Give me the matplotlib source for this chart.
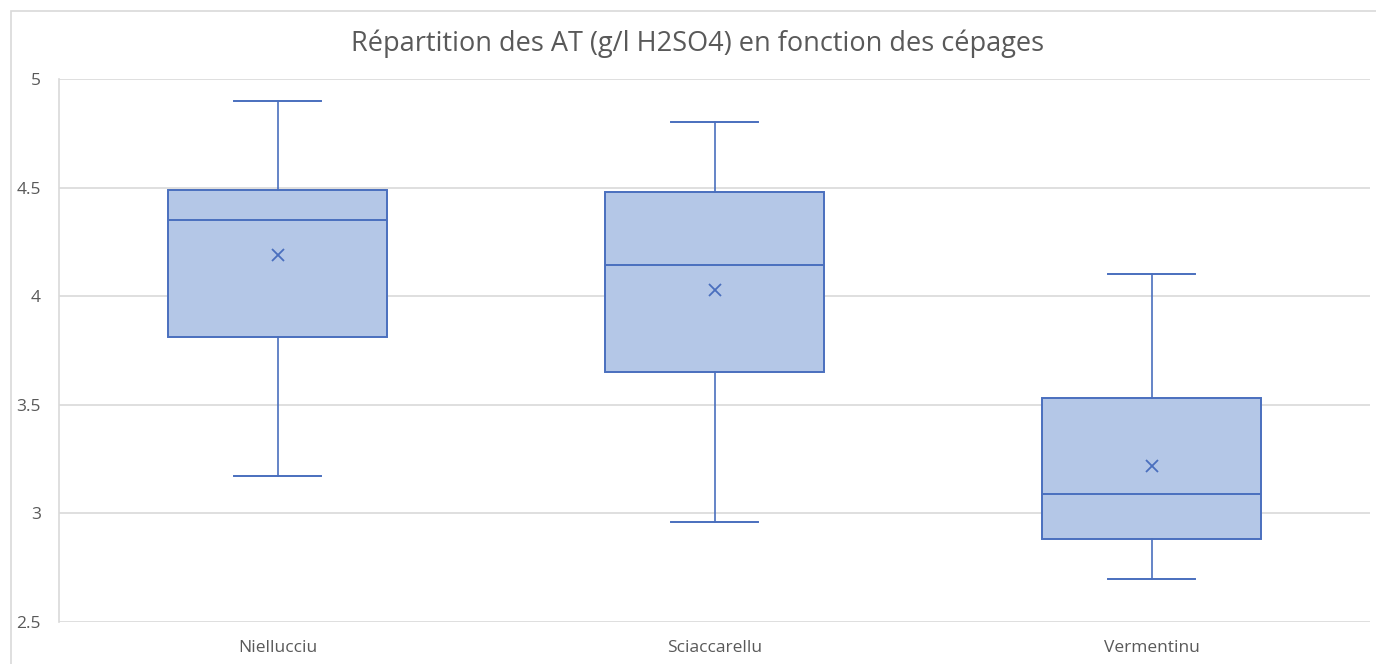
import matplotlib
matplotlib.use("Agg")
import matplotlib.pyplot as plt
from matplotlib.patches import Rectangle

categories = ["Niellucciu", "Sciaccarellu", "Vermentinu"]
whisker_low = [3.17, 2.96, 2.70]
q1 = [3.81, 3.65, 2.88]
median = [4.35, 4.145, 3.09]
q3 = [4.49, 4.48, 3.53]
whisker_high = [4.90, 4.80, 4.10]
mean = [4.19, 4.03, 3.22]

title = "Répartition des AT (g/l H2SO4) en fonction des cépages"
yticks = [2.5, 3, 3.5, 4, 4.5, 5]

edge = "#4A6FBE"
fill = "#B4C7E7"
txt = "#595959"
grid = "#D9D9D9"

plt.rcParams["font.family"] = ["Open Sans", "DejaVu Sans"]

fig = plt.figure(figsize=(13.76, 6.64), dpi=100)
# chart border
fig.add_artist(Rectangle((11/1376, -0.01), 1 - 11/1376 + 0.01, 1 - 11/664 + 0.01,
                         transform=fig.transFigure, fill=False, edgecolor=grid, lw=1.2))
ax = fig.add_axes([59/1376, 1 - 622/664, (1370 - 59)/1376, (622 - 79)/664])

stats = []
for i, c in enumerate(categories):
    stats.append(dict(label=c, whislo=whisker_low[i], q1=q1[i], med=median[i],
                      q3=q3[i], whishi=whisker_high[i], mean=mean[i], fliers=[]))

ax.bxp(stats, positions=range(len(categories)), widths=0.503, showmeans=True,
       patch_artist=True, showfliers=False,
       boxprops=dict(facecolor=fill, edgecolor=edge, linewidth=1.4),
       medianprops=dict(color=edge, linewidth=1.4),
       whiskerprops=dict(color=edge, linewidth=1.2),
       capprops=dict(color=edge, linewidth=1.4),
       capwidths=0.2,
       meanprops=dict(marker="x", markeredgecolor=edge, markersize=9, markeredgewidth=1.3),
       zorder=3)

ax.set_xlim(-0.5, len(categories) - 0.5)
ax.set_ylim(2.5, 5)
ax.set_yticks(yticks)
ax.set_yticklabels([f"{v:g}" for v in yticks])
ax.set_xticks(range(len(categories)))
ax.set_xticklabels(categories)
ax.yaxis.grid(True, color=grid, linewidth=1.2, zorder=0)
ax.set_axisbelow(True)
for s in ["top", "right", "bottom"]:
    ax.spines[s].set_visible(False)
ax.spines["left"].set_color(grid)
ax.spines["left"].set_linewidth(1.2)
ax.tick_params(axis="both", length=0, colors=txt, labelsize=12.5)
ax.tick_params(axis="y", pad=13)
ax.tick_params(axis="x", pad=13)

fig.text(0.5 + 1/1376*10, 1 - 44/664, title, ha="center", va="center", fontsize=19.5, color=txt)

fig.savefig("out.png", dpi=100)
